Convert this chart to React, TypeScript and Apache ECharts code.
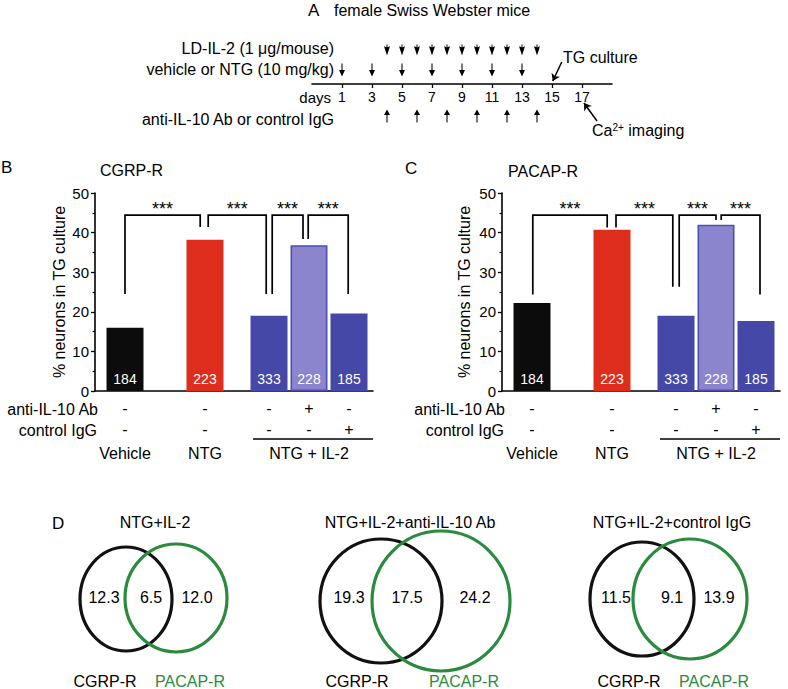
import React, { useEffect, useRef } from "react";
import * as echarts from "echarts";

const FONT = '"Liberation Sans", Arial, Helvetica, sans-serif';

// ---------- Panel A data ----------
const dayLabels = [1, 3, 5, 7, 9, 11, 13, 15, 17];
const il2Days = [4, 5, 6, 7, 8, 9, 10, 11, 12, 13, 14];
const ntgDays = [1, 3, 5, 7, 9, 11, 13];
const abDays = [4, 6, 8, 10, 12, 14];
const cultureDay = 15;
const imagingDay = 17;

// ---------- Panels B / C data ----------
const groupNames = ["Vehicle", "NTG", "NTG + IL-2"];
const antiIL10Row = ["-", "-", "-", "+", "-"];
const controlIgGRow = ["-", "-", "-", "-", "+"];
const cellCounts = [184, 223, 333, 228, 185];
const cgrpValues = [16.0, 38.2, 19.0, 36.8, 19.6];
const pacapValues = [22.2, 40.7, 19.0, 42.0, 17.7];
const yTicks = [0, 10, 20, 30, 40, 50];
const sigLabels = ["***", "***", "***", "***"];

// ---------- Panel D data ----------
const vennTitles = ["NTG+IL-2", "NTG+IL-2+anti-IL-10 Ab", "NTG+IL-2+control IgG"];
const vennCgrpOnly = [12.3, 19.3, 11.5];
const vennOverlap = [6.5, 17.5, 9.1];
const vennPacapOnly = [12.0, 24.2, 13.9];
const vennSetNames = ["CGRP-R", "PACAP-R"];

// ---------- layout (not data) ----------
const barColors = ["#0c0c0c", "#de2d1d", "#4548a7", "#8a85cd", "#4548a7"];
const GREEN = "#2b8a3e";
const slotPos = [0.75, 2.75, 4.35, 5.35, 6.35];
const groupPos = [0.75, 2.75, 5.35];
const X_MAX = 6.95;
const BAR_TOP = 193;
const BAR_H = 198;
const BAR_W = 278;
const PANEL_LEFT = [95, 502];
const bracketsB = [
  [0.75, 2.63, 24.5, 41.4],
  [2.83, 4.28, 41.4, 24.5],
  [4.43, 5.2, 24.5, 38.4],
  [5.33, 6.33, 38.4, 24.5],
];
const bracketsC = [
  [0.77, 2.63, 24.4, 41.3],
  [2.85, 4.27, 41.3, 26.3],
  [4.43, 5.35, 26.3, 43.2],
  [5.48, 6.45, 43.2, 24.4],
];
const BRACKET_TOP = 44.4;
const STAR_Y = 46.0;

const vennLayout = [
  { b: [126, 599, 46, 52], g: [176, 598, 51, 54], nums: [104, 151, 197], labels: [105, 190], title: 155 },
  { b: [381, 601, 61, 62], g: [441, 601, 69, 70], nums: [349, 407, 475], labels: [357, 464], title: 410 },
  { b: [642, 599, 52, 57], g: [690, 599, 57, 60], nums: [616, 672, 719], labels: [629, 714], title: 672 },
];

const nearest = (arr: number[], v: number) =>
  arr.reduce((bi, a, i) => (Math.abs(a - v) < Math.abs(arr[bi] - v) ? i : bi), 0);

function txt(text: string, x: number, y: number, o: any = {}) {
  return {
    type: "text",
    x,
    y,
    silent: true,
    style: {
      text,
      fill: o.fill || "#000",
      fontSize: o.fontSize || 16,
      fontFamily: FONT,
      align: o.align || "left",
      textAlign: o.align || "left",
      verticalAlign: "middle",
      textVerticalAlign: "middle",
      rich: o.rich,
    },
  };
}

const ARROW_DOWN = "path://M4.3,0 L5.7,0 L5.7,7 L9,7 L5,14 L1,7 L4.3,7 Z";
const ARROW_UP = "path://M5,0 L9,6 L5.7,6 L5.7,14 L4.3,14 L4.3,6 L1,6 Z";
const HEAD_DOWN = "path://M4.2,0 L5.8,0 L5.8,3 L10,2 L5,12 L0,2 L4.2,3 Z";

function barAxes(grid: number) {
  return [
    {
      type: "value",
      gridIndex: grid,
      position: "bottom",
      min: 0,
      max: X_MAX,
      axisLine: { show: true, onZero: false, lineStyle: { color: "#000", width: 1.6 } },
      axisTick: { show: false },
      splitLine: { show: false },
      axisLabel: {
        show: true,
        customValues: slotPos,
        formatter: (v: number) => {
          const i = nearest(slotPos, v);
          return antiIL10Row[i] + "\n" + controlIgGRow[i];
        },
        margin: 7,
        lineHeight: 21,
        fontSize: 16,
        fontFamily: FONT,
        color: "#000",
      },
    },
    {
      type: "value",
      gridIndex: grid,
      position: "bottom",
      min: 0,
      max: X_MAX,
      axisLine: { show: false },
      axisTick: { show: false },
      splitLine: { show: false },
      axisLabel: {
        show: true,
        customValues: groupPos,
        formatter: (v: number) => groupNames[nearest(groupPos, v)],
        margin: 53,
        lineHeight: 18,
        fontSize: 16,
        fontFamily: FONT,
        color: "#000",
      },
    },
  ];
}

function barYAxis(grid: number, gap: number) {
  return {
    type: "value",
    gridIndex: grid,
    min: yTicks[0],
    max: yTicks[yTicks.length - 1],
    interval: yTicks[1] - yTicks[0],
    axisLine: { show: true, lineStyle: { color: "#000", width: 1.6 } },
    axisTick: { show: true, length: 4, lineStyle: { color: "#000", width: 1.3 } },
    minorTick: { show: true, splitNumber: 2, length: 2.5, lineStyle: { color: "#000", width: 1.2 } },
    splitLine: { show: false },
    minorSplitLine: { show: false },
    axisLabel: { fontSize: 15, margin: 6, color: "#000", fontFamily: FONT },
    name: "% neurons in TG culture",
    nameLocation: "middle",
    nameRotate: 90,
    nameGap: gap,
    nameTextStyle: { fontSize: 16, color: "#000", fontFamily: FONT },
  };
}

function barSeries(values: number[], xi: number, yi: number) {
  return {
    type: "bar",
    xAxisIndex: xi,
    yAxisIndex: yi,
    barWidth: 37,
    data: values.map((v, i) => ({
      value: [slotPos[i], v],
      itemStyle: {
        color: barColors[i],
        borderColor: i === 3 ? "#4b50b1" : barColors[i],
        borderWidth: i === 3 ? 1.6 : 0,
      },
    })),
    label: {
      show: true,
      position: "insideBottom",
      distance: 5,
      color: "#fff",
      fontSize: 14,
      fontFamily: FONT,
      formatter: (p: any) => String(cellCounts[p.dataIndex]),
    },
  };
}

function bracketSeries(brackets: number[][], xi: number, yi: number) {
  return {
    type: "custom",
    xAxisIndex: xi,
    yAxisIndex: yi,
    clip: false,
    silent: true,
    data: brackets.map((b) => [b[0], b[1], b[2], b[3], BRACKET_TOP]),
    renderItem: (params: any, api: any) => {
      const x1 = api.value(0);
      const x2 = api.value(1);
      const yl = api.value(2);
      const yr = api.value(3);
      const yt = api.value(4);
      const pts = [api.coord([x1, yl]), api.coord([x1, yt]), api.coord([x2, yt]), api.coord([x2, yr])];
      const mid = api.coord([(x1 + x2) / 2, STAR_Y]);
      return {
        type: "group",
        children: [
          {
            type: "polyline",
            shape: { points: pts },
            style: { stroke: "#000", lineWidth: 1.7, fill: null },
          },
          {
            type: "text",
            x: mid[0],
            y: mid[1],
            style: {
              text: sigLabels[params.dataIndex],
              fill: "#000",
              fontSize: 18,
              fontFamily: FONT,
              align: "center",
              verticalAlign: "middle",
            },
          },
        ],
      };
    },
  };
}

export default function App() {
  const ref = useRef<HTMLDivElement>(null);
  useEffect(() => {
    document.body.style.margin = "0";
    const chart = echarts.init(ref.current!, null, { renderer: "svg" });

    const graphics: any[] = [];
    // Panel A texts
    graphics.push(txt("A", 308, 10, { fontSize: 17 }));
    graphics.push(txt("female Swiss Webster mice", 334, 10));
    graphics.push(txt("LD-IL-2 (1 μg/mouse)", 334, 48, { align: "right" }));
    graphics.push(txt("vehicle or NTG (10 mg/kg)", 334, 69, { align: "right" }));
    graphics.push(txt("days", 331, 97, { align: "right", fontSize: 15 }));
    graphics.push(txt("anti-IL-10 Ab or control IgG", 334, 119, { align: "right" }));
    graphics.push(txt("TG culture", 563, 57));
    graphics.push(
      txt("Ca{sup|2+} imaging", 592, 130, {
        rich: { sup: { fontSize: 10, lineHeight: 10, verticalAlign: "top", fontFamily: FONT, fill: "#000" } },
      })
    );
    // Panels B / C texts
    graphics.push(txt("B", 1, 167, { fontSize: 17 }));
    graphics.push(txt("CGRP-R", 100, 170));
    graphics.push(txt("C", 405, 168, { fontSize: 17 }));
    graphics.push(txt("PACAP-R", 508, 171));
    PANEL_LEFT.forEach((left) => {
      graphics.push(txt("anti-IL-10 Ab", left + 3, 409, { align: "right" }));
      graphics.push(txt("control IgG", left + 2, 430, { align: "right" }));
      const x0 = left + slotPos[2] * (BAR_W / X_MAX) - 16;
      graphics.push({
        type: "line",
        silent: true,
        shape: { x1: x0, y1: 439, x2: left + BAR_W, y2: 439 },
        style: { stroke: "#000", lineWidth: 1.6 },
      });
    });
    // Panel D
    graphics.push(txt("D", 52, 523, { fontSize: 17 }));
    vennLayout.forEach((L, k) => {
      graphics.push(txt(vennTitles[k], L.title, 522, { align: "center" }));
      graphics.push({
        type: "ellipse",
        silent: true,
        shape: { cx: L.b[0], cy: L.b[1], rx: L.b[2], ry: L.b[3] },
        style: { fill: null, stroke: "#111", lineWidth: 3.2 },
      });
      graphics.push({
        type: "ellipse",
        silent: true,
        shape: { cx: L.g[0], cy: L.g[1], rx: L.g[2], ry: L.g[3] },
        style: { fill: null, stroke: GREEN, lineWidth: 3.2 },
      });
      graphics.push(txt(vennCgrpOnly[k].toFixed(1), L.nums[0], 597, { align: "center" }));
      graphics.push(txt(vennOverlap[k].toFixed(1), L.nums[1], 597, { align: "center" }));
      graphics.push(txt(vennPacapOnly[k].toFixed(1), L.nums[2], 597, { align: "center" }));
      graphics.push(txt(vennSetNames[0], L.labels[0], 681, { align: "center" }));
      graphics.push(txt(vennSetNames[1], L.labels[1], 681, { align: "center", fill: GREEN }));
    });

    const option: any = {
      animation: false,
      backgroundColor: "#fff",
      textStyle: { fontFamily: FONT },
      grid: [
        { left: 312, top: 34, width: 300, height: 50, outerBoundsMode: "none" },
        { left: PANEL_LEFT[0], top: BAR_TOP, width: BAR_W, height: BAR_H, outerBoundsMode: "none" },
        { left: PANEL_LEFT[1], top: BAR_TOP, width: BAR_W, height: BAR_H, outerBoundsMode: "none" },
      ],
      xAxis: [
        {
          type: "value",
          gridIndex: 0,
          position: "bottom",
          min: -1,
          max: 19,
          axisLine: { show: true, onZero: false, lineStyle: { color: "#000", width: 1.6 } },
          axisTick: { show: true, customValues: dayLabels, length: 4, lineStyle: { color: "#000", width: 1.3 } },
          splitLine: { show: false },
          axisLabel: { customValues: dayLabels, fontSize: 14, margin: 6, color: "#000", fontFamily: FONT },
        },
        ...barAxes(1),
        ...barAxes(2),
      ],
      yAxis: [
        { type: "value", gridIndex: 0, min: 0, max: 50, show: false },
        barYAxis(1, 28),
        barYAxis(2, 30),
      ],
      series: [
        {
          type: "scatter",
          xAxisIndex: 0,
          yAxisIndex: 0,
          clip: false,
          symbol: HEAD_DOWN,
          symbolSize: [6, 11],
          itemStyle: { color: "#000", opacity: 1 },
          data: il2Days.map((d) => [d, 34]),
          silent: true,
        },
        {
          type: "scatter",
          xAxisIndex: 0,
          yAxisIndex: 0,
          clip: false,
          symbol: ARROW_DOWN,
          symbolSize: [6, 13],
          itemStyle: { color: "#000", opacity: 1 },
          data: ntgDays.map((d) => [d, 14]),
          silent: true,
        },
        {
          type: "scatter",
          xAxisIndex: 0,
          yAxisIndex: 0,
          clip: false,
          symbol: ARROW_UP,
          symbolSize: [6, 13],
          itemStyle: { color: "#000", opacity: 1 },
          data: abDays.map((d) => [d, -32]),
          silent: true,
        },
        {
          type: "lines",
          coordinateSystem: "cartesian2d",
          xAxisIndex: 0,
          yAxisIndex: 0,
          clip: false,
          symbol: ["none", "arrow"],
          symbolSize: 7,
          silent: true,
          lineStyle: { color: "#000", width: 1.5, opacity: 1, curveness: 0 },
          data: [
            { coords: [[cultureDay + 0.65, 22], [cultureDay + 0.05, 3]] },
            { coords: [[imagingDay + 1.0, -37], [imagingDay + 0.13, -19]] },
          ],
        },
        barSeries(cgrpValues, 1, 1),
        bracketSeries(bracketsB, 1, 1),
        barSeries(pacapValues, 3, 2),
        bracketSeries(bracketsC, 3, 2),
      ],
      graphic: { elements: graphics },
    };
    chart.setOption(option);
    return () => chart.dispose();
  }, []);
  return (
    <div
      ref={ref}
      style={{ position: "fixed", left: 0, top: 0, width: 788, height: 689, background: "#fff" }}
    />
  );
}
